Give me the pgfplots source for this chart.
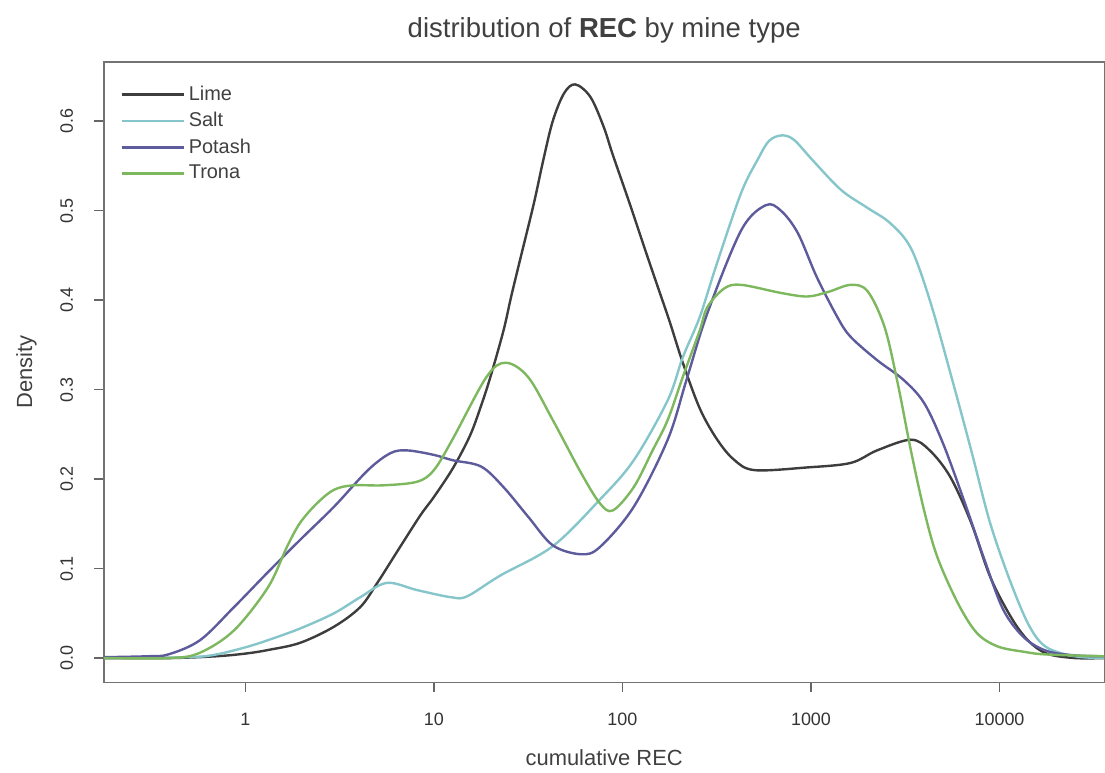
\documentclass[border=0pt]{standalone}
\usepackage{fontspec}
\setmainfont{Liberation Sans}
\usepackage{pgfplots}
\usepackage{pgfplotstable}
\pgfplotsset{compat=1.18}
\definecolor{limec}{HTML}{3D3D3D}
\definecolor{saltc}{HTML}{86C6CA}
\definecolor{potashc}{HTML}{5D5B9C}
\definecolor{tronac}{HTML}{7DB85E}
\pgfplotstableread{
x y
0.178 0.000
0.4 0.000
0.7 0.002
1.0 0.005
1.318 0.009
1.95 0.017
2.95 0.035
4.07 0.057
5.01 0.084
6.61 0.124
8.51 0.160
10 0.180
12.6 0.212
15.5 0.248
17.8 0.282
20 0.315
23.4 0.366
25.7 0.404
28.8 0.447
33.9 0.508
38 0.556
42.7 0.600
49 0.631
56.2 0.641
67.6 0.627
79.4 0.594
89 0.562
110 0.506
135 0.450
155 0.413
178 0.376
209 0.330
257 0.279
316 0.245
389 0.222
501 0.210
955 0.213
1622 0.218
2239 0.232
3388 0.244
4266 0.232
5495 0.202
7079 0.151
8913 0.091
11482 0.046
14125 0.020
17783 0.005
25119 0.000
36000 0.000
}\limedata
\pgfplotstableread{
x y
0.178 0.000
0.5 0.001
0.7 0.004
1.0 0.012
1.318 0.020
1.95 0.033
2.95 0.050
4.07 0.068
5.62 0.084
8.13 0.076
12.3 0.068
15 0.069
22.4 0.092
42.7 0.125
75.9 0.177
114.8 0.221
173.8 0.288
208.9 0.336
257 0.381
316 0.440
426.6 0.520
524.8 0.558
600 0.578
700 0.584
812.8 0.579
1023 0.556
1445 0.523
1995 0.503
2630 0.486
3388 0.458
4266 0.400
5495 0.318
7079 0.232
8913 0.151
11482 0.084
14454 0.035
17783 0.012
25119 0.002
36000 0.000
}\saltdata
\pgfplotstableread{
x y
0.178 0.001
0.3 0.002
0.389 0.004
0.575 0.020
0.871 0.057
1.318 0.096
1.95 0.132
2.95 0.169
4.47 0.210
5.89 0.229
7.24 0.232
10 0.227
12.6 0.221
17.8 0.214
23.4 0.191
31.6 0.158
42.7 0.126
60.3 0.116
75.9 0.124
114.8 0.169
173.8 0.244
218.8 0.311
281.8 0.385
426.6 0.478
575.4 0.506
691.8 0.500
851 0.475
1072 0.426
1380 0.381
1622 0.359
2239 0.333
3090 0.311
3981 0.285
5012 0.240
6457 0.177
8318 0.110
10471 0.054
13490 0.023
17783 0.008
25119 0.003
36000 0.002
}\potashdata
\pgfplotstableread{
x y
0.178 0.000
0.4 0.000
0.575 0.006
0.871 0.031
1.318 0.079
1.66 0.124
1.95 0.151
2.40 0.173
2.95 0.188
3.72 0.193
5.37 0.193
8.13 0.197
10 0.210
12.6 0.245
19 0.314
24 0.330
31.6 0.314
42.7 0.266
60.3 0.207
75.9 0.173
89 0.165
114.8 0.191
144.5 0.232
173.8 0.266
208.9 0.314
257 0.366
281.8 0.392
346.7 0.413
426.6 0.417
691.8 0.408
955 0.404
1230 0.409
1622 0.417
1995 0.410
2455 0.370
2884 0.307
3388 0.232
3981 0.165
4677 0.113
6026 0.061
7586 0.028
9772 0.013
13490 0.007
17783 0.004
36000 0.002
}\tronadata
\begin{document}
\begin{tikzpicture}
\begin{axis}[
  scale only axis, width=500bp, height=310bp,
  xmode=log, log basis x=10,
  xmin=0.178, xmax=36000, ymin=-0.027, ymax=0.666,
  xtick={1,10,100,1000,10000}, xticklabels={1,10,100,1000,10000},
  ytick={0,0.1,0.2,0.3,0.4,0.5,0.6},
  yticklabels={0.0,0.1,0.2,0.3,0.4,0.5,0.6},
  xtick pos=bottom, ytick pos=left,
  minor tick num=0, xminorticks=false,
  tick align=outside, major tick length=5bp,
  axis line style={black!55, line width=0.6bp},
  tick style={black!60, line width=0.6bp},
  ticklabel style={font=\fontsize{9}{11}\selectfont, text=black!80},
  yticklabel style={rotate=90, anchor=south, yshift=7bp},
  xticklabel style={yshift=-7bp},
  /pgf/number format/assume math mode=true,
  title={distribution of \textbf{REC} by mine type},
  title style={font=\fontsize{13.8}{16}\selectfont, text=black!75, yshift=0bp},
  xlabel={cumulative REC}, ylabel={Density},
  label style={font=\fontsize{11}{13}\selectfont, text=black!75},
  xlabel style={yshift=-5bp}, ylabel style={yshift=5bp},
  legend style={at={(0.01,0.975)}, anchor=north west, draw=none, fill=none,
    font=\fontsize{10}{12}\selectfont, text=black!75, row sep=0.5bp},
  legend cell align=left,
  legend image code/.code={\draw[#1, line width=1.2bp] (0bp,0bp) -- (20bp,0bp); \path (0bp,0bp) -- (31bp,0bp);},
  every axis plot/.append style={line width=1.2bp, smooth, tension=0.55},
  clip=true,
]
\addplot[limec] table {\limedata};
\addlegendentry{Lime}
\addplot[saltc] table {\saltdata};
\addlegendentry{Salt}
\addplot[potashc] table {\potashdata};
\addlegendentry{Potash}
\addplot[tronac] table {\tronadata};
\addlegendentry{Trona}
\end{axis}
\path (current axis.north) ++(0,31bp);
\path (current axis.west) ++(-52bp,0);
\end{tikzpicture}
\end{document}
